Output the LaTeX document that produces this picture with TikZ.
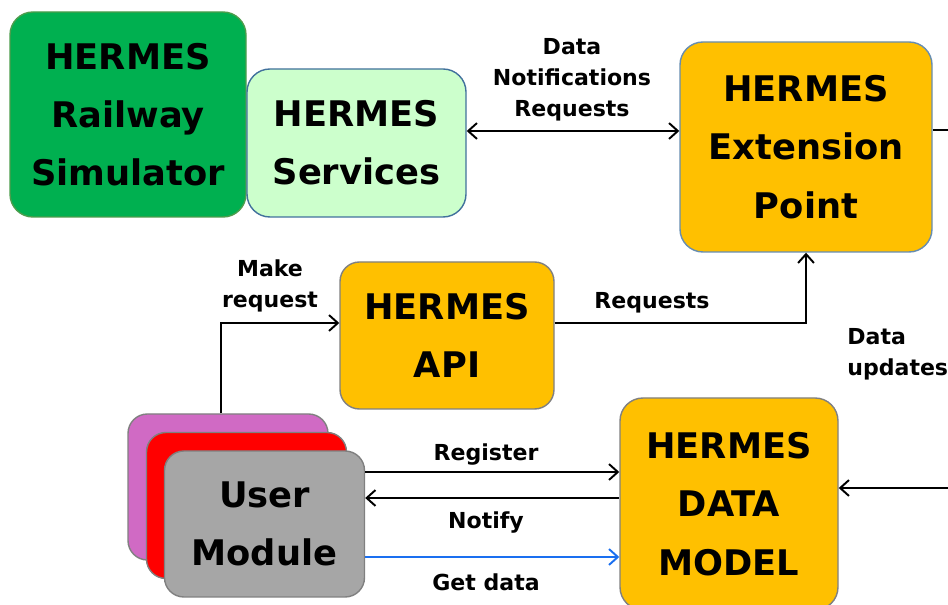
\documentclass[tikz,border=0pt]{standalone}
\usepackage{fontspec}
\setmainfont{DejaVu Sans}
\usetikzlibrary{positioning,arrows.meta}

\definecolor{simgreen}{HTML}{00B050}
\definecolor{srvgreen}{HTML}{CCFFCC}
\definecolor{hamber}{HTML}{FFC000}
\definecolor{umpurple}{HTML}{D06AC4}
\definecolor{umgrey}{HTML}{A6A6A6}
\definecolor{edgeblue}{HTML}{41719C}
\definecolor{getblue}{HTML}{1A6FF0}

\newcommand{\px}{0.567pt}

\tikzset{
  box/.style={draw, line width=0.8pt, rounded corners=13pt, inner sep=0pt, align=center,
    font=\bfseries\fontsize{20}{33}\selectfont},
  sized/.style 2 args={minimum width=#1*\px, minimum height=#2*\px},
  lbl/.style={font=\bfseries\fontsize{12.5}{17.5}\selectfont, align=center, inner sep=0pt},
  link/.style={line width=1.1pt, >={Straight Barb[length=5pt,width=9pt,line width=1.1pt]}}
}

\begin{document}
\begin{tikzpicture}[x=\px,y=-\px]
    \useasboundingbox (0,0) rectangle (948,605);
    \clip (0,0) rectangle (948,605);
    %%%%% THE TOP ROW
    \node[box, sized={236}{205}, fill=simgreen, draw=green!45!black!70] (SIM) at (128,114.5)
      {HERMES\\Railway\\Simulator};
    \node[box, sized={219}{148}, fill=srvgreen, draw=edgeblue] (SRV) at (356.5,143)
      {HERMES\\Services};
    \node[box, sized={252}{210}, fill=hamber, draw=edgeblue!80] (EXT) at (806,147)
      {HERMES\\Extension\\Point};
    %%%%% API AND DATA MODEL
    \node[box, sized={214}{147}, fill=hamber, draw=gray, rounded corners=11pt] (API) at (447,335.5)
      {HERMES\\API};
    \node[box, sized={218}{212}, fill=hamber, draw=gray] (MODEL) at (729,504)
      {HERMES\\DATA\\MODEL};
    %%%%% THE STACK OF USER MODULES
    \begin{scope}[every node/.style={box, sized={200}{146}, draw=gray, rounded corners=11pt}]
      \node[fill=umpurple] (UM1) at (228,487) {};
      \node[fill=red] (UM2) at (246.5,505.5) {};
      \node[fill=umgrey] (UM3) at (264.5,524) {User\\Module};
    \end{scope}
    % helper coordinates for the connector heights
    \coordinate (srvrow) at (0,131);
    \coordinate (extout) at (948,130);
    \coordinate (reqrow) at (0,323);
    \coordinate (mreq) at (221,0);
    \coordinate (regrow) at (0,472);
    \coordinate (notrow) at (0,498);
    \coordinate (getrow) at (0,557);
    \coordinate (updin) at (948,488);
    %%%%% LINKS
    \draw[link, <->] (SRV.east |- srvrow) -- (EXT.west |- srvrow);
    \draw[link] (EXT.east |- extout) -- (extout);
    \draw[link, ->] (API.east |- reqrow) -| (EXT.south);
    \draw[link, ->] (UM1.north -| mreq) |- (API.west |- reqrow);
    \draw[link, ->] (UM3.east |- regrow) -- (MODEL.west |- regrow);
    \draw[link, <-] (UM3.east |- notrow) -- (MODEL.west |- notrow);
    \draw[link, ->, getblue] (UM3.east |- getrow) -- (MODEL.west |- getrow);
    \draw[link, ->] (updin) -- (MODEL.east |- updin);
    %%%%% LABELS
    \node[lbl] (dnr) at (572,80) {Data\\Notifications\\Requests};
    \node[lbl] (req) at (652,303) {Requests};
    \node[lbl] (mk) at (270,286) {Make\\request};
    \node[lbl] (reg) at (486,455) {Register};
    \node[lbl] (ntf) at (486,523) {Notify};
    \node[lbl] (get) at (486,582) {Get data};
    \node[lbl, align=left, anchor=west] (upd) at (847,354) {Data\\updates};
\end{tikzpicture}
\end{document}
